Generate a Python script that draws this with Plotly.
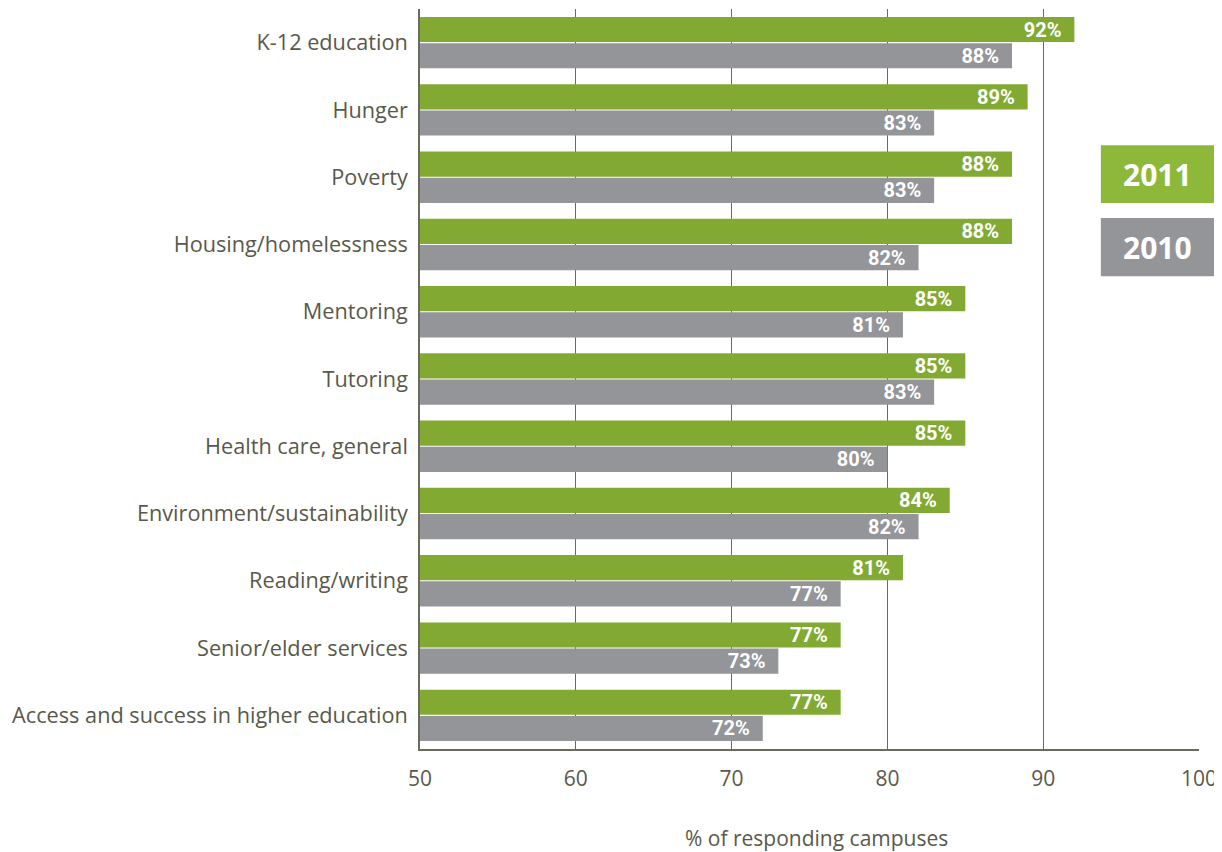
import plotly.graph_objects as go

categories = ["K-12 education", "Hunger", "Poverty", "Housing/homelessness", "Mentoring",
              "Tutoring", "Health care, general", "Environment/sustainability",
              "Reading/writing", "Senior/elder services", "Access and success in higher education"]
values_2011 = [92, 89, 88, 88, 85, 85, 85, 84, 81, 77, 77]
values_2010 = [88, 83, 83, 82, 81, 83, 80, 82, 77, 73, 72]
series_names = ["2011", "2010"]
x_ticks = [50, 60, 70, 80, 90, 100]
x_title = "% of responding campuses"

GREEN = "#82aa33"
GRAY = "#939598"
LEG_GREEN = "#8db83a"
TEXT = "#59594a"
LINE = "#6b6b5c"
BAR_FONT = dict(family="Roboto, sans-serif", size=20, color="white")

fig = go.Figure()
for name, vals, col in [(series_names[0], values_2011, GREEN), (series_names[1], values_2010, GRAY)]:
    fig.add_trace(go.Bar(
        y=categories, x=vals, orientation="h", name=name,
        marker=dict(color=col, line=dict(width=0)),
        text=[f"<b>{v}%</b>&nbsp;&nbsp;" for v in vals], textposition="inside",
        insidetextanchor="end", textangle=0, insidetextfont=BAR_FONT,
        constraintext="none",
    ))

# page body adds an 8px offset, so margins are shifted by -8 px
fig.update_layout(
    barmode="group", bargap=0.22, bargroupgap=0.04,
    width=1222, height=852,
    margin=dict(l=412, r=31, t=1, b=111, autoexpand=False),
    plot_bgcolor="white", paper_bgcolor="white",
    showlegend=False,
    font=dict(family="Open Sans, sans-serif", color=TEXT),
)
fig.update_xaxes(
    range=[50, 100], tickvals=x_ticks, showgrid=True, gridcolor=LINE, gridwidth=1,
    showline=True, linecolor=LINE, linewidth=1.5, zeroline=False, automargin=False,
    tickfont=dict(size=21, color=TEXT), ticks="", ticklabelstandoff=10,
)
fig.update_yaxes(
    categoryorder="array", categoryarray=categories, range=[10.5, -0.5],
    showline=True, linecolor=LINE, linewidth=1.5, showgrid=False, automargin=False,
    tickfont=dict(size=21.7, color=TEXT), ticks="", ticklabelstandoff=6,
)

fig.add_annotation(xref="paper", yref="paper", x=0.509, y=-0.1203, xanchor="center", yanchor="middle",
                   text=x_title, showarrow=False, font=dict(size=21, color=TEXT))

# legend boxes
boxes = [(series_names[0], LEG_GREEN, 0.816, 0.738), (series_names[1], GRAY, 0.7176, 0.639)]
for label, col, y1, y0 in boxes:
    fig.add_shape(type="rect", xref="paper", yref="paper", x0=0.874, x1=1.0244, y0=y0, y1=y1,
                  fillcolor=col, line=dict(width=0), layer="above")
    fig.add_annotation(xref="paper", yref="paper", x=(0.874 + 1.0244) / 2 - 0.003, y=(y0 + y1) / 2,
                       xanchor="center", yanchor="middle", text=f"<b>{label}</b>", showarrow=False,
                       font=dict(family="Open Sans, sans-serif", size=30, color="white"))

fig.write_html("out.html")
